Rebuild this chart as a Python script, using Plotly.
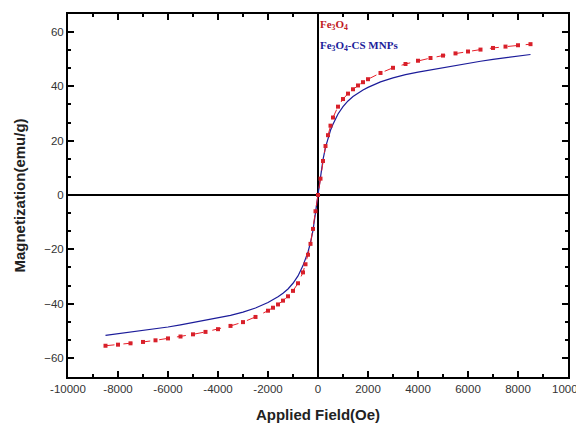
import plotly.graph_objects as go

# Fe3O4 (red, markers + dashed line)
h_fe = [-8500, -8000, -7500, -7000, -6500, -6000, -5500, -5000, -4500, -4000, -3500, -3000, -2500, -2000,
        -1800, -1600, -1400, -1200, -1000, -800, -600, -500, -400, -300, -200, -100, 0,
        100, 200, 300, 400, 500, 600, 800, 1000, 1200, 1400, 1600, 1800,
        2000, 2500, 3000, 3500, 4000, 4500, 5000, 5500, 6000, 6500, 7000, 7500, 8000, 8500]
m_fe = [-55.5, -55.1, -54.6, -54.1, -53.5, -52.8, -52.1, -51.3, -50.4, -49.4, -48.2, -46.8, -44.9, -42.6,
        -41.5, -40.3, -38.9, -37.3, -35.3, -32.5, -28.5, -25.5, -22.0, -18.0, -12.5, -6.0, 0.0,
        6.0, 12.5, 18.0, 22.0, 25.5, 28.5, 32.5, 35.3, 37.3, 38.9, 40.3, 41.5,
        42.6, 44.9, 46.8, 48.2, 49.4, 50.4, 51.3, 52.1, 52.8, 53.5, 54.1, 54.6, 55.1, 55.5]

# Fe3O4-CS MNPs (blue line)
h_cs = [-8500, -8000, -7500, -7000, -6500, -6000, -5500, -5000, -4500, -4000, -3500, -3000, -2500, -2000,
        -1800, -1600, -1400, -1200, -1000, -800, -600, -500, -400, -300, -200, -100, 0,
        100, 200, 300, 400, 500, 600, 800, 1000, 1200, 1400, 1600, 1800,
        2000, 2500, 3000, 3500, 4000, 4500, 5000, 5500, 6000, 6500, 7000, 7500, 8000, 8500]
m_cs = [-51.7, -51.1, -50.5, -49.9, -49.2, -48.6, -47.8, -46.9, -46.0, -45.2, -44.3, -43.1, -41.6, -39.6,
        -38.6, -37.5, -36.2, -34.6, -32.5, -29.8, -26.0, -23.8, -21.0, -17.5, -13.0, -6.5, 0.0,
        6.5, 13.0, 17.5, 21.0, 23.8, 26.0, 29.8, 32.5, 34.6, 36.2, 37.5, 38.6,
        39.6, 41.6, 43.1, 44.3, 45.2, 46.0, 46.9, 47.8, 48.6, 49.2, 49.9, 50.5, 51.1, 51.7]

x_ticks = [-10000, -8000, -6000, -4000, -2000, 0, 2000, 4000, 6000, 8000, 10000]
y_ticks = [-60, -40, -20, 0, 20, 40, 60]

fig = go.Figure()
fig.add_trace(go.Scatter(x=h_cs, y=m_cs, mode="lines",
                         line=dict(color="#1c1c9a", width=1.2), showlegend=False))
fig.add_trace(go.Scatter(x=h_fe, y=m_fe, mode="lines+markers",
                         line=dict(color="#e8202a", width=1, dash="dash"),
                         marker=dict(symbol="square", size=4, color="#d8202a"),
                         showlegend=False))

axis_common = dict(showline=True, linecolor="black", linewidth=2, mirror="ticks",
                   ticks="inside", ticklen=6, tickwidth=1.5, tickcolor="black",
                   showgrid=False, zeroline=True, zerolinecolor="black", zerolinewidth=1.5,
                   automargin=False, ticklabeloverflow="allow",
                   tickfont=dict(family="Liberation Sans, Arial", size=11.5, color="#333333"))

fig.update_xaxes(range=[-10000, 10000], tickvals=x_ticks,
                 ticktext=[str(v) for v in x_ticks],
                 minor=dict(dtick=1000, ticks="inside", ticklen=3, tickcolor="black", tickwidth=1.5),
                 title=dict(text="<b>Applied Field(Oe)</b>", standoff=16,
                            font=dict(family="Liberation Sans, Arial", size=15, color="#222")),
                 **axis_common)
fig.update_yaxes(range=[-67, 66.6], tickvals=y_ticks,
                 minor=dict(tick0=0, dtick=20/3, ticks="inside", ticklen=3, tickcolor="black", tickwidth=1.5),
                 title=dict(text="<b>Magnetization(emu/g)</b>", standoff=15,
                            font=dict(family="Liberation Sans, Arial", size=15, color="#222")),
                 **axis_common)

fig.add_annotation(x=0, y=66, xref="x", yref="y", xanchor="left", yanchor="top",
                   text="<b>Fe<sub>3</sub>O<sub>4</sub></b>", showarrow=False,
                   font=dict(family="Liberation Serif, Times New Roman", size=11, color="#c0181e"))
fig.add_annotation(x=0, y=58, xref="x", yref="y", xanchor="left", yanchor="top",
                   text="<b>Fe<sub>3</sub>O<sub>4</sub>-CS MNPs</b>", showarrow=False,
                   font=dict(family="Liberation Serif, Times New Roman", size=11, color="#1c1c9a"))

fig.update_layout(width=576, height=426, margin=dict(l=68, r=8, t=14, b=49),
                  paper_bgcolor="white", plot_bgcolor="white")
fig.write_html("out.html", config={"displayModeBar": False},
               post_script="document.body.style.margin='0';")
